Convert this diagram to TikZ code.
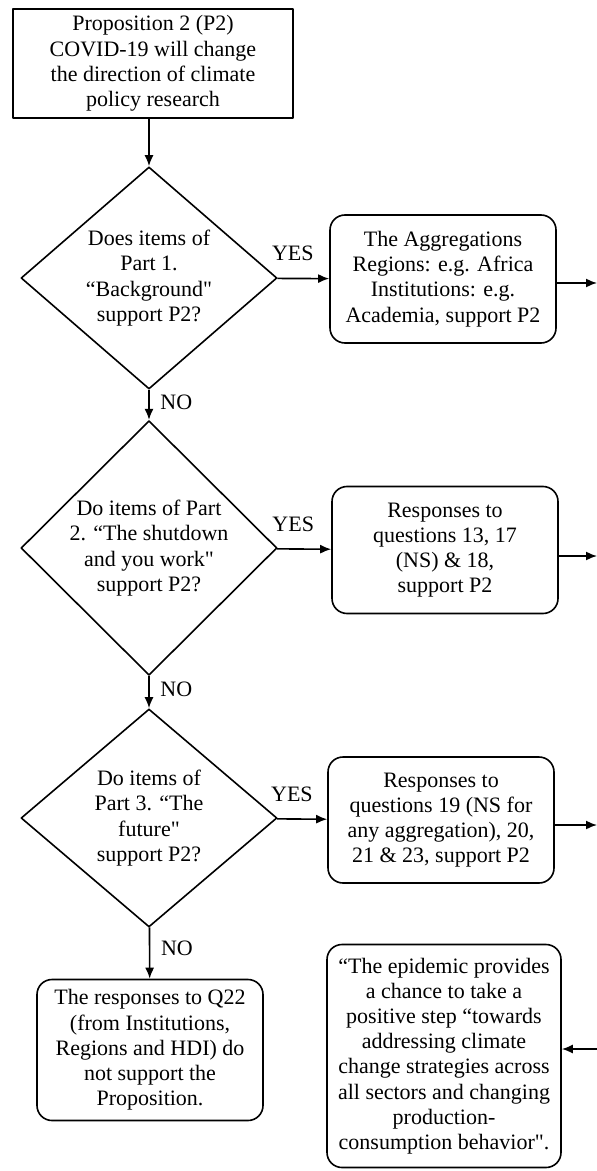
\documentclass[tikz,border=0pt]{standalone}
\usepackage{fontspec}
\setmainfont{Liberation Serif}[Ligatures=TeXOff]
\usetikzlibrary{shapes.geometric,arrows.meta}
\begin{document}
\begin{tikzpicture}[x=0.5pt,y=-0.5pt,>={Latex[length=5.5pt,width=4.5pt]},line join=round,line width=0.8pt,
	font=\fontsize{11}{12.6}\selectfont,
	box/.style={draw,align=center,inner sep=0pt},
	rbox/.style={box,rounded corners=7.5pt,minimum width=113pt},
	ask/.style={draw,diamond,align=center,inner sep=0pt,minimum width=128pt,minimum height=109pt}]
		\def\xd{149} \def\xb{443} \def\xr{597} % cot
		\useasboundingbox (0,0) rectangle (\xr,1171);
		\node[box,minimum width=140pt,minimum height=54.5pt] (prop) at (153,63.5)
			{Proposition 2 (P2)\\COVID-19 will change\\the direction of climate\\policy research};
		\node[ask] (d1) at (\xd,278) {Does items of\\Part 1.\\“Background"\\support P2?};
		\node[ask] (d2) at (\xd,548) {Do items of Part\\2. “The shutdown\\and you work"\\support P2?};
		\node[ask] (d3) at (\xd,818) {Do items of\\Part 3. “The\\future"\\support P2?};
		\node[rbox,minimum height=64pt] (b1) at (\xb,279)
			{The Aggregations\\Regions: e.g. Africa\\Institutions: e.g.\\Academia, support P2};
		\node[rbox,minimum height=63.5pt] (b2) at (\xb+2,550)
			{Responses to\\questions 13, 17\\(NS) \& 18,\\support P2};
		\node[rbox,minimum height=63pt] (b3) at (\xb-2,820)
			{Responses to\\questions 19 (NS for\\any aggregation), 20,\\21 \& 23, support P2};
		\node[rbox,minimum height=70.5pt] (no) at (150,1050)
			{The responses to Q22\\(from Institutions,\\Regions and HDI) do\\not support the\\Proposition.};
		\node[rbox,minimum width=117pt,minimum height=111.5pt] (quote) at (\xb+1,1056)
			{“The epidemic provides\\a chance to take a\\positive step “towards\\addressing climate\\change strategies across\\all sectors and changing\\production-\\consumption behavior".};
		\coordinate (o1) at (\xr,283);
		\coordinate (o2) at (\xr,556);
		\coordinate (o3) at (\xr,825);
		\coordinate (i4) at (\xr,1049);
		\draw[->] (prop.south -| d1.north) -- (d1.north);
		\draw[->] (d1) -- (b1) node[pos=0.3,above,yshift=5pt]{YES};
		\draw[->] (d2) -- (b2) node[pos=0.3,above,yshift=5pt]{YES};
		\draw[->] (d3) -- (b3) node[pos=0.3,above,yshift=5pt]{YES};
		\draw[->] (d1) -- (d2) node[pos=0.4,right,xshift=2pt]{NO};
		\draw[->] (d2) -- (d3) node[pos=0.4,right,xshift=2pt]{NO};
		\draw[->] (d3) -- (no) node[pos=0.4,right,xshift=2pt]{NO};
		\draw[->] (b1.east |- o1) -- (o1);
		\draw[->] (b2.east |- o2) -- (o2);
		\draw[->] (b3.east |- o3) -- (o3);
		\draw[->] (i4) -- (quote.east |- i4);
\end{tikzpicture}
\end{document}
